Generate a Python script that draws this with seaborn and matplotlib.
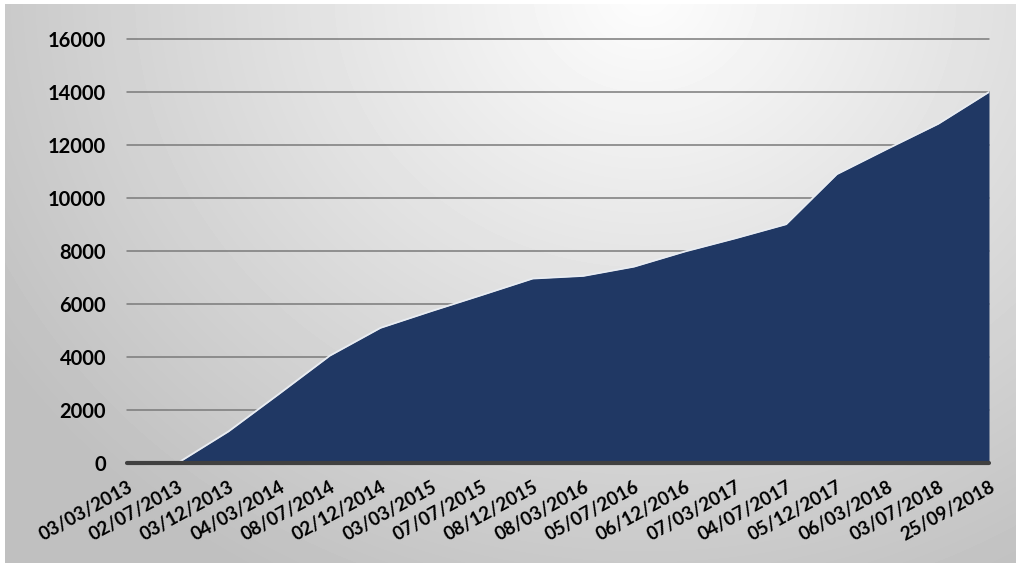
import numpy as np
import pandas as pd
import seaborn as sns
import matplotlib.pyplot as plt

# cumulative total at each date on the category axis
dates = ["03/03/2013", "02/07/2013", "03/12/2013", "04/03/2014", "08/07/2014",
         "02/12/2014", "03/03/2015", "07/07/2015", "08/12/2015", "08/03/2016",
         "05/07/2016", "06/12/2016", "07/03/2017", "04/07/2017", "05/12/2017",
         "06/03/2018", "03/07/2018", "25/09/2018"]
totals = [0, 0, 1190, 2610, 4050, 5100, 5730, 6340, 6960, 7060,
          7410, 7980, 8480, 9010, 10900, 11860, 12800, 14000]
yticks = list(range(0, 16001, 2000))

sns.set_theme(style="white")
plt.rcParams['font.family'] = ['Lato', 'DejaVu Sans']

df = pd.DataFrame({"date": dates, "total": totals})
df["pos"] = range(len(df))

fig = plt.figure(figsize=(10.16, 5.63), dpi=100)
fig.patch.set_facecolor("white")

# grey radial background like the excel chart area
bg = fig.add_axes([5 / 1016, 0, 1 - 5 / 1016, 1 - 4 / 563])
h, w = 559, 1011
yy, xx = np.mgrid[0:h, 0:w]
d = np.sqrt(((xx - 640) / 650) ** 2 + ((yy + 10) / 570) ** 2)
shade = np.clip(253 - 52 * d, 192, 253) / 255
bg.imshow(shade, cmap="gray", vmin=0, vmax=1, aspect="auto", interpolation="bilinear")
bg.axis("off")

ax = fig.add_axes([127 / 1016, 1 - 463 / 563, (989 - 127) / 1016, (463 - 39) / 563])
ax.patch.set_alpha(0)

for t in yticks[1:]:
    ax.axhline(t, color="#7a7a7a", lw=1.1, zorder=1, clip_on=False)

ax.fill_between(df["pos"], df["total"], color="#203864", zorder=2, lw=0)
sns.lineplot(data=df, x="pos", y="total", color="#e8ecf2", lw=1.3, ax=ax, zorder=3)
ax.axhline(0, color="#404040", lw=3, zorder=4, clip_on=False)

ax.set_xlim(0, len(df) - 1)
ax.set_ylim(0, 16000)
ax.set_yticks(yticks)
ax.set_yticklabels([str(t) for t in yticks], fontsize=14.5, fontweight="bold", color="black")
ax.set_xticks(df["pos"])
ax.set_xticklabels(df["date"], rotation=29, ha="right", rotation_mode="anchor",
                   fontsize=13.5, fontweight="bold", color="black")
ax.tick_params(axis="y", length=0, pad=15)
ax.tick_params(axis="x", length=0, pad=11)
ax.set_xlabel("")
ax.set_ylabel("")
for s in ax.spines.values():
    s.set_visible(False)

fig.savefig("out.png", dpi=100)
